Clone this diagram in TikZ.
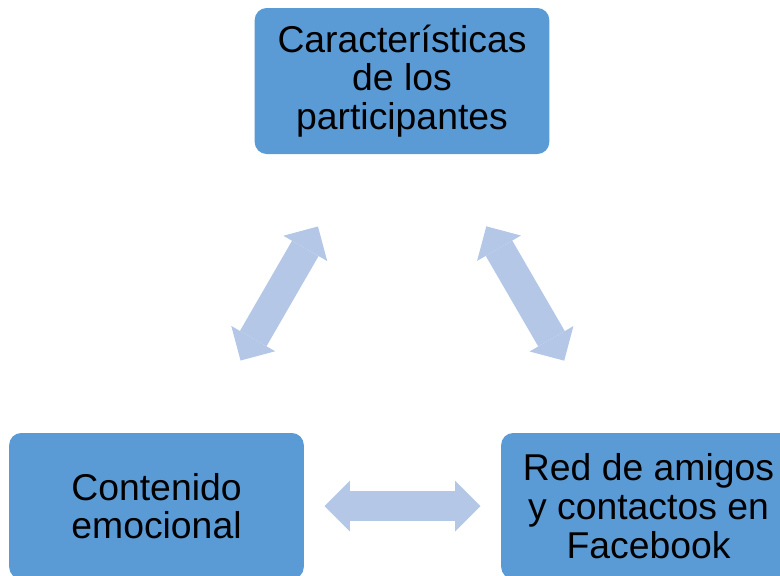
\documentclass[tikz,border=0pt]{standalone}
\usepackage{fontspec}
\setmainfont{Liberation Sans}
\usetikzlibrary{arrows.meta}
\definecolor{boxblue}{HTML}{5B9BD5}
\definecolor{linkblue}{HTML}{B4C7E7}

\begin{document}
\begin{tikzpicture}[x=0.75pt,y=-0.75pt]
\tikzstyle{every node}=[font=\fontsize{28}{29}\selectfont]
\tikzstyle{theme}=[fill=boxblue, rounded corners=9pt, minimum width=221pt, minimum height=109.5pt, align=center, inner sep=0pt]
\tikzstyle{link}=[draw=linkblue, line width=23pt, shorten <=126pt, shorten >=126pt,
  {Triangle[width=38pt,length=19pt,line width=0pt]}-{Triangle[width=38pt,length=19pt,line width=0pt]}]

\path[use as bounding box, clip] (0,0) rectangle (780,575);

\node[theme] (P) at (402,81) {Características\\de los\\participantes};
\node[theme] (C) at (156.5,506) {Contenido\\emocional};
\node[theme] (R) at (648.5,506) {Red de amigos\\y contactos en\\Facebook};

\draw[link] (P.center) -- (C.center);
\draw[link] (P.center) -- (R.center);
\draw[link] (C.center) -- (R.center);
\end{tikzpicture}
\end{document}
